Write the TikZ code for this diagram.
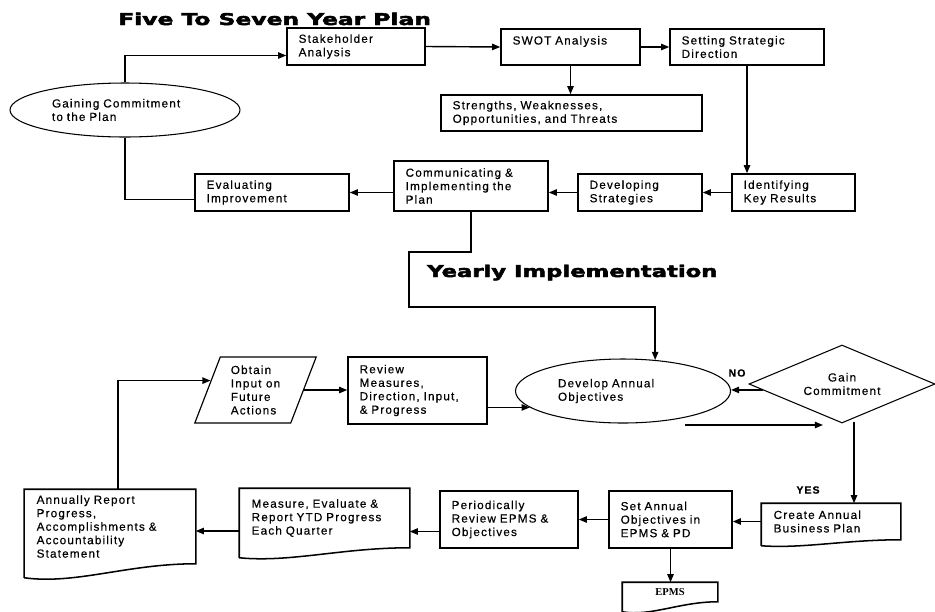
\documentclass[tikz,border=0pt]{standalone}
\usepackage{fontspec}
\setmainfont{Liberation Sans}
\newfontfamily\boxfont{Liberation Sans}[LetterSpace=10, FakeBold=0.4]
\newfontfamily\headfont{DejaVu Sans}[BoldFeatures={FakeBold=2.5}]
\newfontfamily\epmsfont{Liberation Serif}
\usetikzlibrary{arrows.meta}
\usetikzlibrary{shapes.geometric}
\usetikzlibrary{calc}

\tikzset{
	boxline/.style={line width=1.3pt},
	stepbox/.style={draw, boxline, fill=white, inner xsep=0.35cm, inner ysep=2pt, align=left,
		font=\boxfont\fontsize{10}{11.5}\selectfont},
	docbox/.style={stepbox, draw=none, fill=none},
	ovalbox/.style={ellipse, draw, line width=0.9pt, inner sep=0pt, align=left,
		font=\boxfont\fontsize{10}{11.5}\selectfont},
	inputbox/.style={trapezium, trapezium left angle=70, trapezium right angle=110,
		trapezium stretches=true, draw, line width=1pt, inner sep=0pt, align=left,
		font=\boxfont\fontsize{10}{11.5}\selectfont},
	choice/.style={diamond, aspect=2.4, draw, line width=0.9pt, inner sep=0pt, align=center,
		font=\boxfont\fontsize{10}{11.5}\selectfont},
	flag/.style={inner sep=0pt, font=\boxfont\bfseries\fontsize{9}{10}\selectfont},
	conn/.style={line width=1.2pt},
	arr/.style={conn, -{Triangle[length=7pt,width=5.5pt]}}
}

% outline of a document symbol round a node: name, drop of the wavy edge
\newcommand{\docoutline}[2]{%
	\draw[boxline] ($(#1.south west)+(0,#2)$) -- (#1.north west) -- (#1.north east) -- (#1.south east)
	.. controls ($(#1.south east)!0.4!(#1.south west)$) and ($(#1.south west)!0.3!(#1.south east)+(0,1.5*#2)$)
	.. ($(#1.south west)+(0,#2)$);}

\begin{document}
\begin{tikzpicture}[x=0.03cm, y=-0.03cm]
	\useasboundingbox (0,0) rectangle (935,611);

	% five to seven year plan
	\node[anchor=base west, inner sep=0pt] (plantitle) at (118,25)
		{\resizebox{267pt}{10.5pt}{\headfont\bfseries Five To Seven Year Plan}};
	\node[stepbox, minimum width=4.14cm, minimum height=1.11cm, text width=3.44cm] (stake) at (356,46.5) {Stakeholder\\Analysis};
	\node[stepbox, minimum width=4.17cm, minimum height=1.08cm, text width=3.47cm] (swot) at (570.5,47) {SWOT Analysis\\\mbox{}};
	\node[stepbox, minimum width=4.62cm, minimum height=1.08cm, text width=3.92cm] (setdir) at (747,47) {Setting Strategic\\Direction};
	\node[stepbox, minimum width=7.83cm, minimum height=1.08cm, text width=7.13cm] (swotlist) at (571.5,113) {Strengths, Weaknesses,\\Opportunities, and Threats};
	\node[stepbox, minimum width=3.69cm, minimum height=1.11cm, text width=2.99cm] (keyres) at (793.5,192.5) {Identifying\\Key Results};
	\node[stepbox, minimum width=3.72cm, minimum height=1.11cm, text width=3.02cm] (strat) at (640,192.5) {Developing\\Strategies};
	\node[stepbox, minimum width=4.62cm, minimum height=1.5cm, text width=3.92cm] (comm) at (471,186) {Communicating \&\\Implementing the\\Plan};
	\node[stepbox, minimum width=4.62cm, minimum height=1.11cm, text width=3.92cm] (evalimp) at (272,192.5) {Evaluating\\Improvement};
	\node[ovalbox, minimum width=6.9cm, minimum height=1.62cm, text width=4.38cm] (gaining) at (125,110) {Gaining Commitment\\to the Plan};

	\draw[arr] (gaining.north) |- ($(stake.west)+(0,9)$);
	\draw[arr] (stake.east) -- (swot.west);
	\draw[arr] (swot.east) -- (setdir.west);
	\draw[arr] (swot.south) -- (swot.south |- swotlist.north);
	\draw[arr] (setdir.south) -- (setdir.south |- keyres.north);
	\draw[arr] (keyres.west) -- (strat.east);
	\draw[arr] (strat.west) -- (strat.west -| comm.east);
	\draw[arr] (evalimp.east -| comm.west) -- (evalimp.east);
	\draw[conn] ($(evalimp.west)+(0,7)$) -| (gaining.south);

	% yearly implementation
	\node[anchor=base west, inner sep=0pt] (yeartitle) at (427,277)
		{\resizebox{247.7pt}{10.5pt}{\headfont\bfseries Yearly Implementation}};
	\node[ovalbox, minimum width=6.45cm, minimum height=1.92cm, text width=3.9cm] (develop) at (623,391) {Develop Annual\\Objectives};
	\node[choice, minimum width=5.58cm, minimum height=2.34cm] (gain) at (842,384) {Gain\\Commitment};
	\node[inputbox, minimum width=3.66cm, minimum height=1.98cm] (obtain) at (255.5,390) {Obtain\\Input on\\Future\\Actions};
	\node[stepbox, minimum width=4.17cm, minimum height=2.01cm, text width=3.47cm] (review) at (417.5,390.5) {Review\\Measures,\\Direction, Input,\\\& Progress};
	\node[docbox, minimum width=4.14cm, minimum height=1.05cm, text width=3.44cm] (create) at (831,521.5) {Create Annual\\Business Plan};
	\node[stepbox, minimum width=3.69cm, minimum height=1.71cm, text width=2.99cm] (set) at (670.5,519.5) {Set Annual\\Objectives in\\EPMS \& PD};
	\node[stepbox, minimum width=4.14cm, minimum height=1.71cm, text width=3.44cm] (periodic) at (509,519.5) {Periodically\\Review EPMS \&\\Objectives};
	\node[docbox, minimum width=5.07cm, minimum height=1.74cm, text width=4.37cm] (measure) at (324.5,518) {Measure, Evaluate \&\\Report YTD Progress\\Each Quarter};
	\node[docbox, minimum width=5.1cm, minimum height=2.19cm, text width=4.4cm] (annual) at (110,526.5) {Annually Report\\Progress,\\Accomplishments \&\\Accountability\\Statement};
	\node[docbox, minimum width=2.82cm, minimum height=0.54cm, align=center, font=\epmsfont\bfseries\fontsize{9}{10}\selectfont] (epms) at (670,592) {EPMS};
	\docoutline{create}{6}
	\docoutline{measure}{10}
	\docoutline{annual}{14}
	\docoutline{epms}{10}

	\draw[arr] (comm.south) |- (409,252) -- (409,307) -| (develop.44);
	\draw[arr] ($(annual.north)+(8,0)$) |- ($(obtain.top left corner)!0.36!(obtain.bottom left corner)$);
	\draw[arr] (obtain.east) -- (obtain.east -| review.west);
	\draw[arr] (review.east |- develop.190) -- (develop.190);
	\draw[arr] ($(gain.west)!0.15!(gain.south)$) coordinate (nostart) -- (nostart -| develop.east);
	\node[flag] (nolbl) at (737,373) {NO};
	\coordinate (retfrom) at (685,425);
	\coordinate (retto) at (823,425);
	\draw[arr] (retfrom) -- (retto);
	\draw[arr] ($(gain.south)+(12,-2)$) coordinate (yesstart) -- (yesstart |- create.north);
	\node[flag] (yeslbl) at (808,490) {YES};
	\draw[arr] (create.west) -- (create.west -| set.east);
	\draw[arr] (set.west) -- (set.west -| periodic.east);
	\draw[arr] (set.south) -- (set.south |- epms.north);
	\draw[arr] ($(periodic.west)+(0,12)$) coordinate (pm) -- (pm -| measure.east);
	\draw[arr] ($(measure.west)+(0,13)$) coordinate (ma) -- (ma -| annual.east);
\end{tikzpicture}
\end{document}
